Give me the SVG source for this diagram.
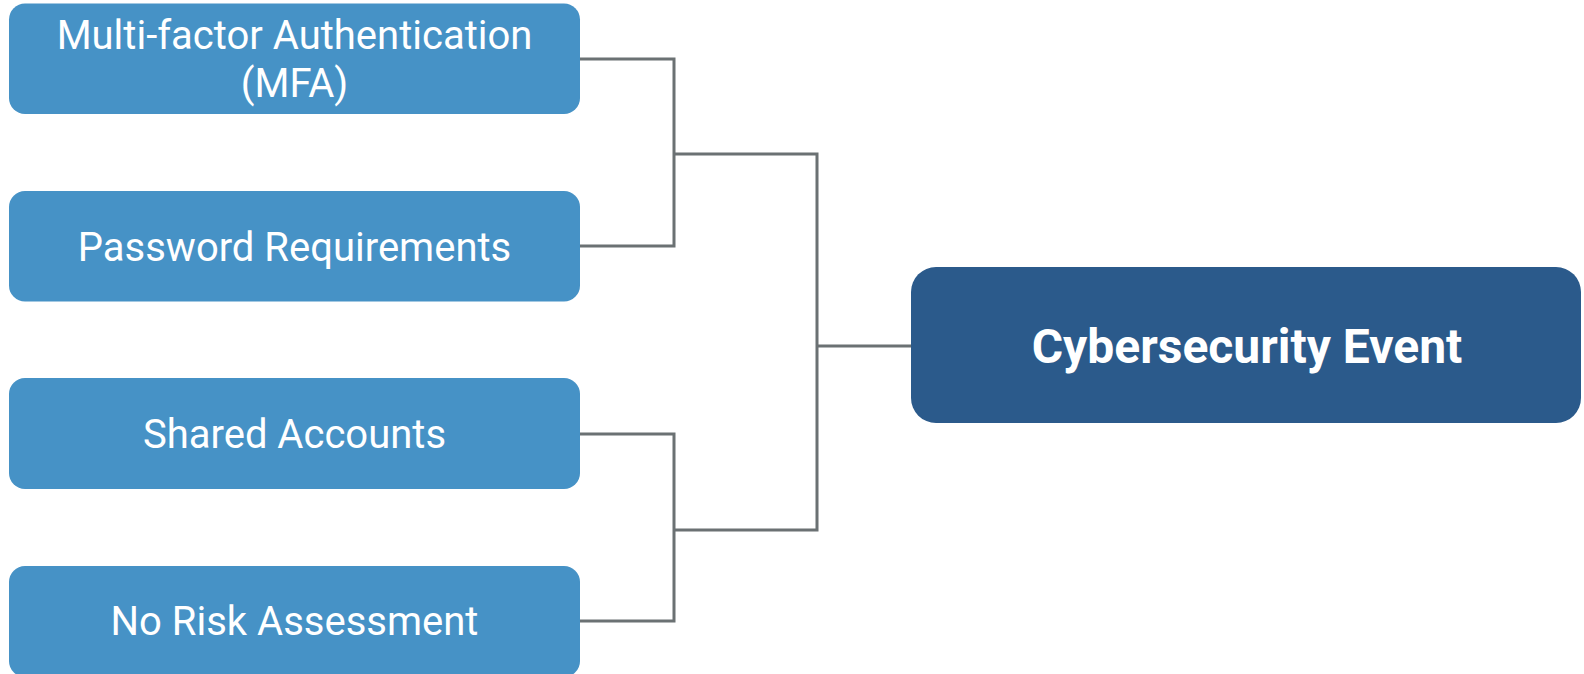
<svg xmlns="http://www.w3.org/2000/svg" width="1584" height="674" viewBox="0 0 1584 674">
<style>
.src{fill:#4692C6;}
.dst{fill:#2B5A8B;}
.lbl{font-family:Roboto,"Liberation Sans",sans-serif;font-size:40px;fill:#FFFFFF;text-anchor:middle;}
.big{font-family:Roboto,"Liberation Sans",sans-serif;font-size:48px;font-weight:bold;fill:#FFFFFF;text-anchor:middle;}
.con{fill:none;stroke:#6B7173;stroke-width:3;}
</style>
<rect width="1584" height="674" fill="#FFFFFF"/>
<g id="connectors">
<polyline class="con" points="580,59 674,59 674,246 580,246"/>
<polyline class="con" points="580,434 674,434 674,621 580,621"/>
<polyline class="con" points="674,154 817,154 817,530 674,530"/>
<line class="con" x1="817" y1="346" x2="912" y2="346"/>
</g>
<g id="node-mfa">
<rect class="src" x="9" y="3.5" width="571" height="110.5" rx="16"/>
<text class="lbl" x="294.5" y="49">Multi-factor Authentication</text>
<text class="lbl" x="294.5" y="97">(MFA)</text>
</g>
<g id="node-password">
<rect class="src" x="9" y="191" width="571" height="110.5" rx="16"/>
<text class="lbl" x="294.5" y="260.5">Password Requirements</text>
</g>
<g id="node-shared">
<rect class="src" x="9" y="378" width="571" height="111" rx="16"/>
<text class="lbl" x="294.5" y="447.5">Shared Accounts</text>
</g>
<g id="node-risk">
<rect class="src" x="9" y="566" width="571" height="111" rx="16"/>
<text class="lbl" x="294.5" y="635">No Risk Assessment</text>
</g>
<g id="node-event">
<rect class="dst" x="911" y="267" width="670" height="156" rx="25"/>
<text class="big" x="1247" y="363">Cybersecurity Event</text>
</g>
</svg>
